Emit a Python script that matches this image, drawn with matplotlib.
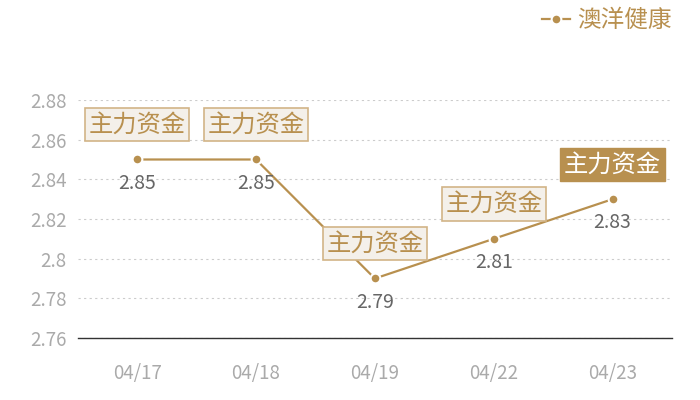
import matplotlib
matplotlib.use('Agg')
import matplotlib.pyplot as plt

plt.rcParams['font.family'] = ['Noto Sans CJK SC', 'DejaVu Sans']

dates = ['04/17', '04/18', '04/19', '04/22', '04/23']
prices = [2.85, 2.85, 2.79, 2.81, 2.83]
tags = ['主力资金', '主力资金', '主力资金', '主力资金', '主力资金']
highlight = [False, False, False, False, True]
series_name = '澳洋健康'
yticks = [2.76, 2.78, 2.80, 2.82, 2.84, 2.86, 2.88]
ytick_labels = ['2.76', '2.78', '2.8', '2.82', '2.84', '2.86', '2.88']

gold = '#b8904f'
fig = plt.figure(figsize=(7, 4), dpi=100)
ax = fig.add_axes([0.111, 0.155, 0.849, 0.595])

x = list(range(len(dates)))
ax.plot(x, prices, color=gold, lw=1.6, marker='o', ms=7,
        markerfacecolor=gold, markeredgecolor='white', markeredgewidth=1.5,
        label=series_name, zorder=3)

for i, (v, t) in enumerate(zip(prices, tags)):
    ax.annotate(f'{v:g}', (i, v), xytext=(0, -17), textcoords='offset points',
                ha='center', va='center', fontsize=14, color='#666666')
    if highlight[i]:
        box = dict(boxstyle='square,pad=0.15', fc=gold, ec=gold, lw=1)
        col = 'white'
    else:
        box = dict(boxstyle='square,pad=0.15', fc='#f4f0ea', ec='#d2b487', lw=1.2)
        col = gold
    ax.annotate(t, (i, v), xytext=(0, 25), textcoords='offset points',
                ha='center', va='center', fontsize=17.5, color=col, bbox=box, zorder=4)

ax.set_xlim(-0.5, len(dates) - 0.5)
ax.set_ylim(2.76, 2.88)
ax.set_xticks(x)
ax.set_xticklabels(dates)
ax.set_yticks(yticks)
ax.set_yticklabels(ytick_labels)
ax.tick_params(axis='both', length=0, labelsize=13.5, labelcolor='#aaaaaa')
ax.tick_params(axis='x', pad=18)
ax.tick_params(axis='y', pad=8)
ax.grid(axis='y', color='#cccccc', ls=(0, (2, 3)), lw=0.8)
for s in ['top', 'right', 'left']:
    ax.spines[s].set_visible(False)
ax.spines['bottom'].set_color('#333333')
ax.spines['bottom'].set_linewidth(1)

leg = ax.legend(loc='upper right', bbox_to_anchor=(1.035, 1.47), frameon=False,
                fontsize=17, handlelength=1.2, handletextpad=0.3)
for txt in leg.get_texts():
    txt.set_color(gold)

fig.savefig('out.png', dpi=100)
